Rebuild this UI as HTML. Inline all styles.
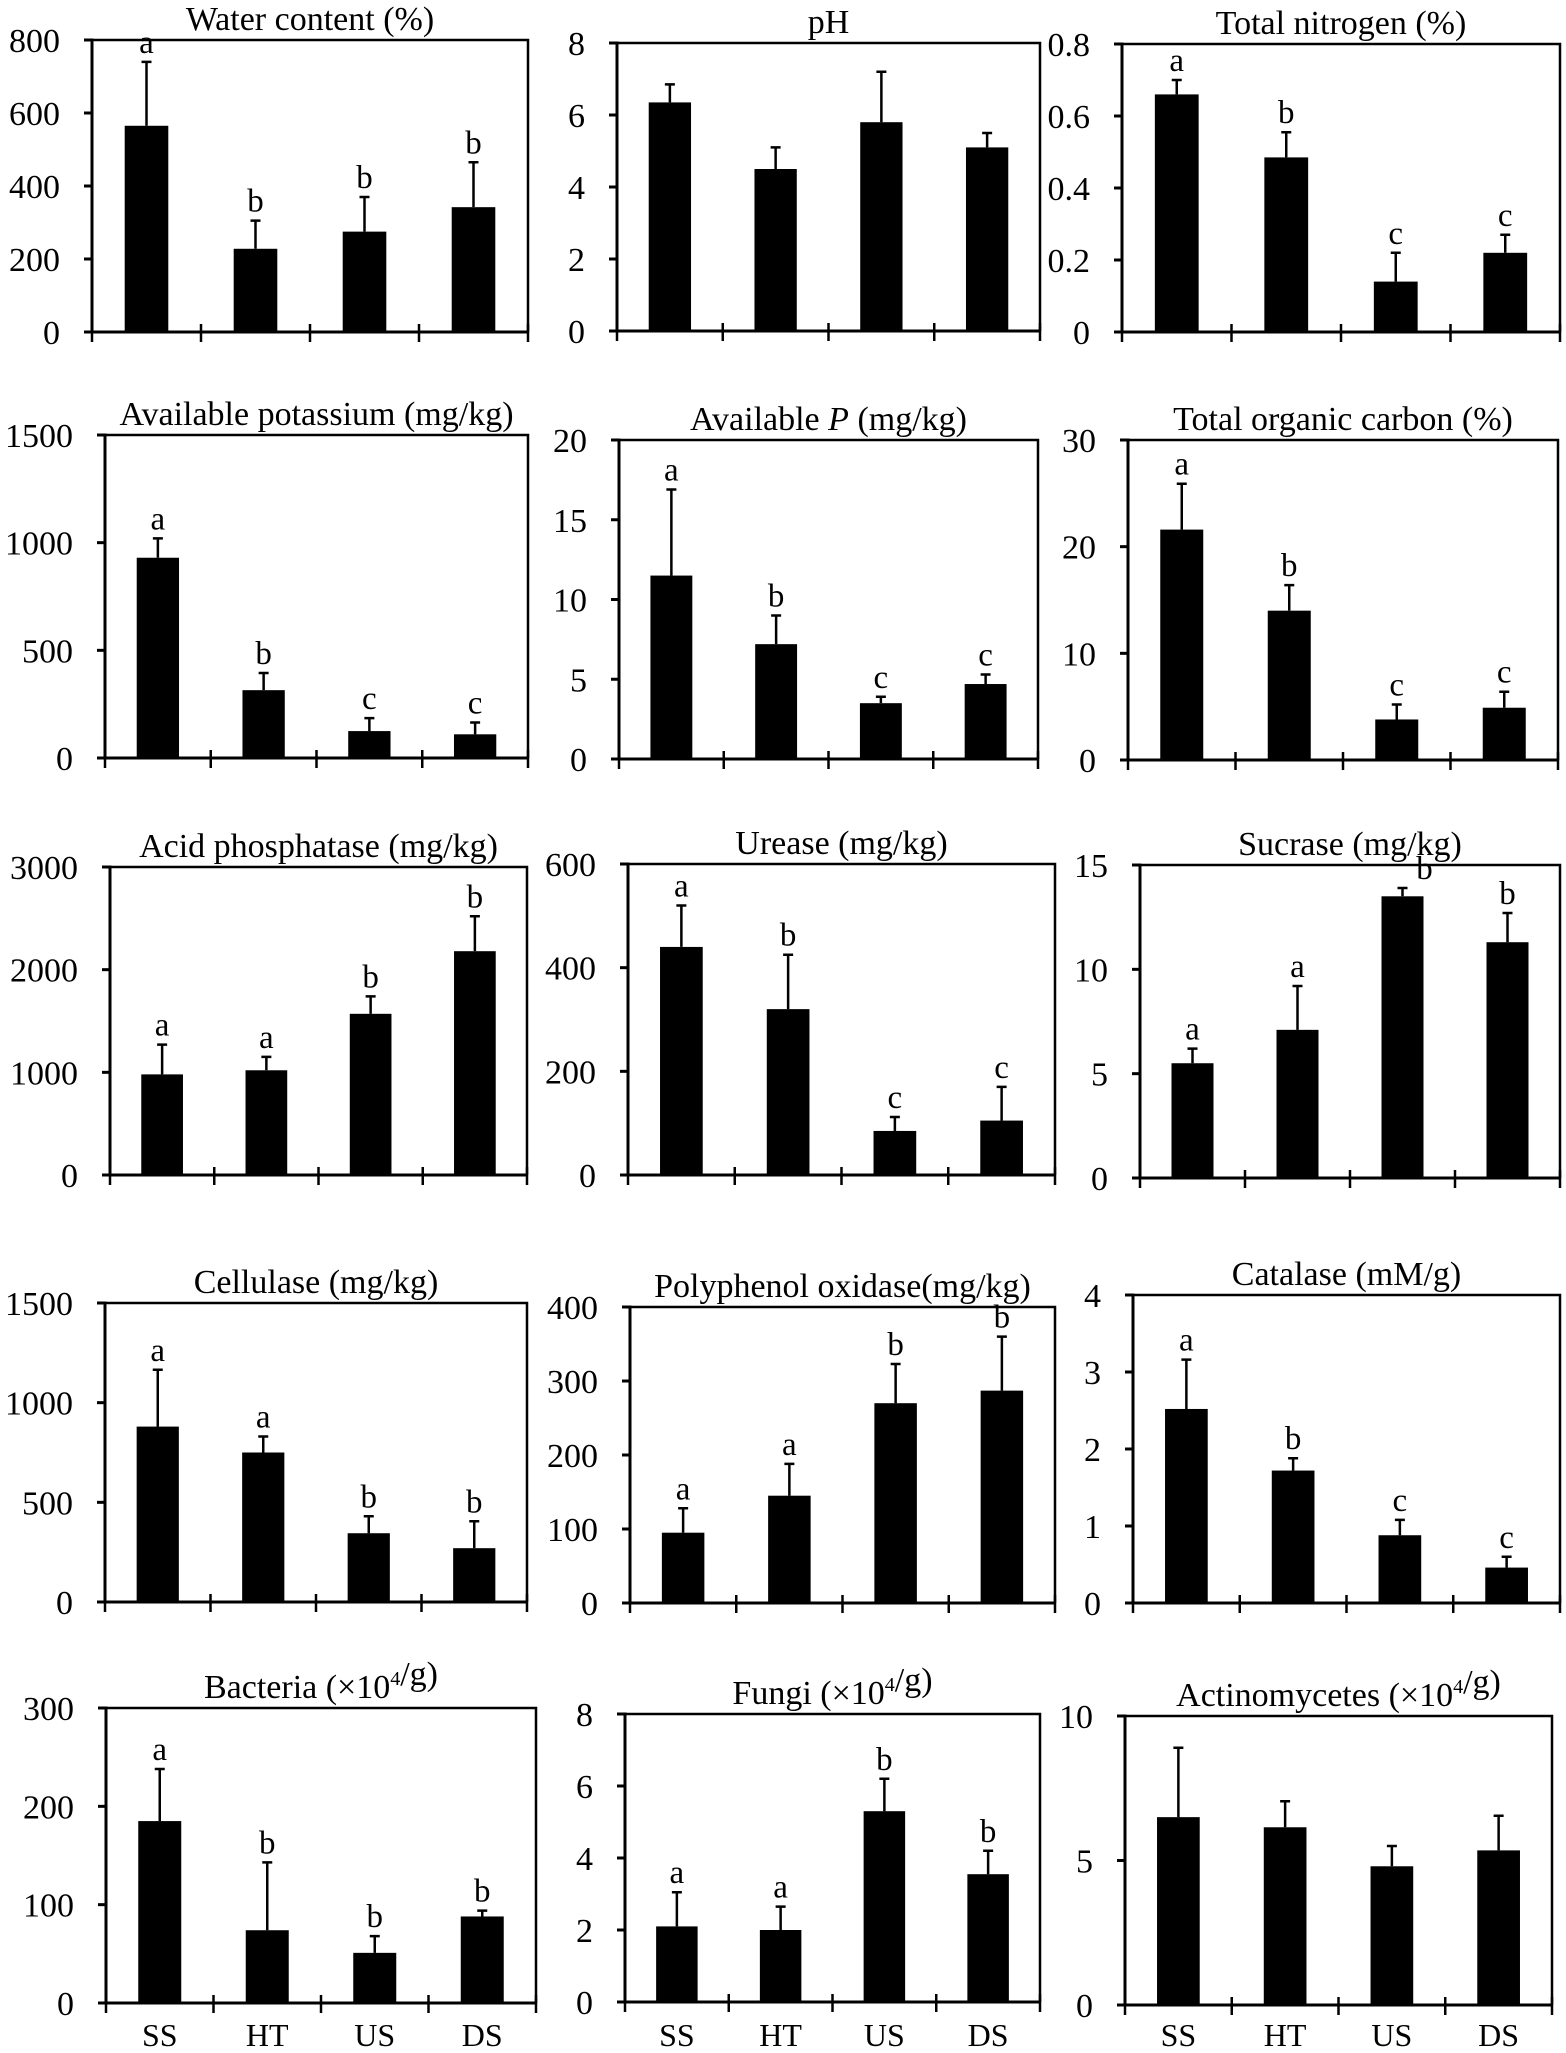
<!DOCTYPE html>
<html><head><meta charset="utf-8">
<style>
html,body{margin:0;padding:0;background:#fff;}
svg{display:block;}
svg text{font-family:"Liberation Serif","DejaVu Serif",serif;}
</style></head>
<body>
<svg id="fig" width="1566" height="2053" viewBox="0 0 1566 2053" xmlns="http://www.w3.org/2000/svg"></svg>
<script>
const categories = ["SS","HT","US","DS"];
const waterVals = [565,228,275,342];
const waterTops = [740,305,370,465];
const phVals = [6.35,4.5,5.8,5.1];
const phTops = [6.85,5.1,7.2,5.5];
const tnVals = [0.66,0.485,0.14,0.22];
const tnTops = [0.70,0.555,0.22,0.27];
const akVals = [930,315,125,110];
const akTops = [1020,395,185,165];
const apVals = [11.5,7.2,3.5,4.7];
const apTops = [16.9,9.0,3.9,5.3];
const tocVals = [21.6,14,3.8,4.9];
const tocTops = [25.9,16.4,5.2,6.4];
const acpVals = [980,1020,1570,2180];
const acpTops = [1270,1150,1740,2520];
const ureVals = [440,320,85,105];
const ureTops = [520,425,112,170];
const sucVals = [5.5,7.1,13.5,11.3];
const sucTops = [6.2,9.2,13.9,12.7];
const celVals = [880,750,345,270];
const celTops = [1165,830,430,405];
const ppoVals = [95,145,270,287];
const ppoTops = [128,188,323,360];
const catVals = [2.52,1.72,0.88,0.46];
const catTops = [3.16,1.88,1.08,0.6];
const bacVals = [185,74,51,88];
const bacTops = [238,143,68,94];
const funVals = [2.1,2.0,5.3,3.55];
const funTops = [3.05,2.65,6.2,4.2];
const actVals = [6.5,6.15,4.8,5.35];
const actTops = [8.9,7.05,5.5,6.55];
const waterTicks = ["0","200","400","600","800"];
const phTicks = ["0","2","4","6","8"];
const tnTicks = ["0","0.2","0.4","0.6","0.8"];
const akTicks = ["0","500","1000","1500"];
const apTicks = ["0","5","10","15","20"];
const tocTicks = ["0","10","20","30"];
const acpTicks = ["0","1000","2000","3000"];
const ureTicks = ["0","200","400","600"];
const sucTicks = ["0","5","10","15"];
const celTicks = ["0","500","1000","1500"];
const ppoTicks = ["0","100","200","300","400"];
const catTicks = ["0","1","2","3","4"];
const bacTicks = ["0","100","200","300"];
const funTicks = ["0","2","4","6","8"];
const actTicks = ["0","5","10"];
const L1=["a","b","b","b"], L2=["a","b","c","c"], L3=["a","a","b","b"], L0=["","","",""];

const NS="http://www.w3.org/2000/svg";
const svg=document.getElementById('fig');
function mk(tag,attrs,parent){const e=document.createElementNS(NS,tag);for(const k in attrs)e.setAttribute(k,attrs[k]);(parent||svg).appendChild(e);return e;}

const panels=[
 {id:"water-content",title:["Water content (%)"],box:[92,40,528,332],ticks:waterTicks,vals:waterVals,tops:waterTops,let:L1},
 {id:"ph",title:["pH"],box:[617,43,1040,331],ticks:phTicks,vals:phVals,tops:phTops,let:L0},
 {id:"total-nitrogen",title:["Total nitrogen (%)"],box:[1122,44,1560,332],ticks:tnTicks,vals:tnVals,tops:tnTops,let:L2},
 {id:"available-potassium",title:["Available potassium (mg/kg)"],box:[105,435,528,758],ticks:akTicks,vals:akVals,tops:akTops,let:L2},
 {id:"available-p",title:["Available ",["P","i"]," (mg/kg)"],box:[619,440,1038,759],ticks:apTicks,vals:apVals,tops:apTops,let:L2},
 {id:"total-organic-carbon",title:["Total organic carbon (%)"],box:[1128,440,1558,760],ticks:tocTicks,vals:tocVals,tops:tocTops,let:L2},
 {id:"acid-phosphatase",title:["Acid phosphatase (mg/kg)"],box:[110,867,527,1175],ticks:acpTicks,vals:acpVals,tops:acpTops,let:L3},
 {id:"urease",title:["Urease (mg/kg)"],box:[628,864,1055,1175],ticks:ureTicks,vals:ureVals,tops:ureTops,let:L2},
 {id:"sucrase",title:["Sucrase (mg/kg)"],box:[1140,865,1560,1178],ticks:sucTicks,vals:sucVals,tops:sucTops,let:L3,shift:[0,0,22,0]},
 {id:"cellulase",title:["Cellulase (mg/kg)"],box:[105,1303,527,1602],ticks:celTicks,vals:celVals,tops:celTops,let:L3},
 {id:"polyphenol-oxidase",title:["Polyphenol oxidase(mg/kg)"],box:[630,1307,1055,1603],ticks:ppoTicks,vals:ppoVals,tops:ppoTops,let:L3},
 {id:"catalase",title:["Catalase (mM/g)"],box:[1133,1295,1560,1603],ticks:catTicks,vals:catVals,tops:catTops,let:L2},
 {id:"bacteria",title:["Bacteria (×10",["4","s"],"/g)"],box:[106,1708,536,2003],ticks:bacTicks,vals:bacVals,tops:bacTops,let:L1,xl:true},
 {id:"fungi",title:["Fungi (×10",["4","s"],"/g)"],box:[625,1714,1040,2002],ticks:funTicks,vals:funVals,tops:funTops,let:L3,xl:true},
 {id:"actinomycetes",title:["Actinomycetes (×10",["4","s"],"/g)"],box:[1125,1716,1552,2005],ticks:actTicks,vals:actVals,tops:actTops,let:L0,xl:true}
];

panels.forEach(p=>{
 const [x0,y0,x1,y1]=p.box;
 const g=mk('g',{});
 
 
 const tmax=parseFloat(p.ticks[p.ticks.length-1]);
 const y=v=>y1-(v/tmax)*(y1-y0);
 const cw=(x1-x0)/categories.length;
 const xc=i=>x0+cw*(i+0.5);
 const bw=cw*0.4;
 const t=mk('text',{x:(x0+x1)/2,y:y0-10,'text-anchor':'middle','font-size':34,fill:'#000'},g);
 
 
 p.title.forEach(part=>{
  if(typeof part==='string'){const s=mk('tspan',{},t);s.textContent=part;}
  else if(part[1]==='i'){const s=mk('tspan',{'font-style':'italic'},t);s.textContent=part[0];}
  else {const s=mk('tspan',{'font-size':20,dy:-13},t);s.textContent=part[0];const s2=mk('tspan',{dy:13},t);s2.textContent='';}
 });
 p.vals.forEach((v,i)=>{
  const r=mk('rect',{x:xc(i)-bw/2,y:y(v),width:bw,height:y1-y(v),fill:'#000'},g);
  
  
  const ty=y(p.tops[i]);
  const e=mk('path',{d:`M${xc(i)},${y(v)}V${ty}M${xc(i)-5},${ty}H${xc(i)+5}`,stroke:'#000','stroke-width':2.5,fill:'none'},g);
  
  
  if(p.let[i]){
   const dx=p.shift?p.shift[i]:0;
   const lt=mk('text',{x:xc(i)+dx,y:ty-9,'text-anchor':'middle','font-size':33,fill:'#000'},g);
   lt.textContent=p.let[i];
   
   
  }
 });
 mk('path',{d:`M${x0},${y0}H${x1}V${y1}`,stroke:'#000','stroke-width':2.5,fill:'none'},g);
 mk('path',{d:`M${x0-8},${y0}H${x0}V${y1}H${x1}`,stroke:'#000','stroke-width':3,fill:'none'},g);
 p.ticks.forEach(tk=>{
  const yy=y(parseFloat(tk));
  mk('line',{x1:x0-8,x2:x0,y1:yy,y2:yy,stroke:'#000','stroke-width':3},g);
  const tl=mk('text',{x:x0-32,y:yy+12,'text-anchor':'end','font-size':34,fill:'#000'},g);
  tl.textContent=tk;
  
  
 });
 for(let i=0;i<=categories.length;i++){
  const xx=x0+cw*i;
  mk('line',{x1:xx,x2:xx,y1:y1-8,y2:y1+10,stroke:'#000','stroke-width':2.5},g);
 }
 if(p.xl){
  categories.forEach((c,i)=>{
   const xt=mk('text',{x:xc(i),y:2046,'text-anchor':'middle','font-size':32,fill:'#000'},g);
   xt.textContent=c;
   
   
  });
 }
});
</script>
</body></html>
